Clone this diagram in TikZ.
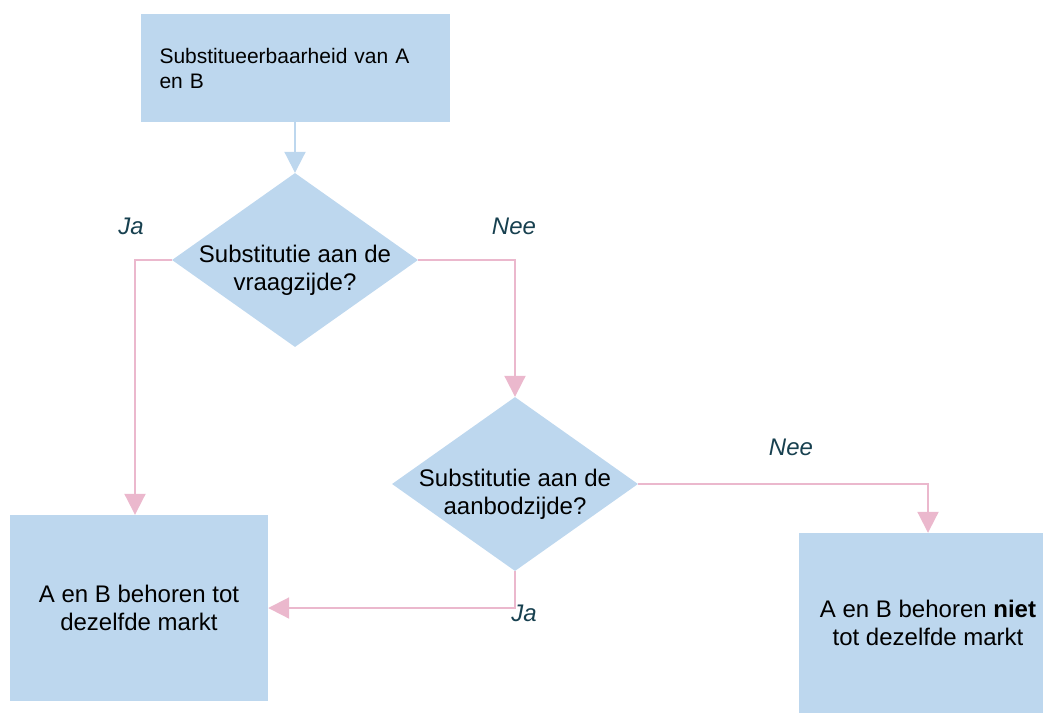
\documentclass[tikz,border=0pt]{standalone}
\usepackage{fontspec}
\setmainfont{Liberation Sans}
\usetikzlibrary{shapes.geometric,arrows.meta}
\definecolor{boxblue}{HTML}{BDD7EE}
\definecolor{flowpink}{HTML}{EBB8CD}
\definecolor{answerteal}{HTML}{17404F}
\tikzset{
	block/.style={rectangle, fill=boxblue, align=center, minimum width=258pt, font=\fontsize{24pt}{27.6pt}\selectfont},
	decision/.style={diamond, fill=boxblue, minimum width=246pt, minimum height=174pt, inner sep=0pt},
	question/.style={align=center, font=\fontsize{24pt}{27.6pt}\selectfont},
	flow/.style={draw=flowpink, line width=2pt, -{Triangle[width=21pt,length=21pt]}},
	answer/.style={font=\fontsize{24pt}{27.6pt}\selectfont\itshape, text=answerteal}
}
\begin{document}
\begin{tikzpicture}[x=1pt, y=-1pt]
		\useasboundingbox (0,0) rectangle (1043,713);
		\clip (0,0) rectangle (1043,713);
		\node(start)[block, align=left, minimum width=0pt, text width=271pt, inner xsep=19pt, minimum height=108pt, font=\fontsize{21pt}{25pt}\selectfont] at (295,68){Substitueerbaarheid van A\\en B};
		\node(q1)[decision] at (295,260){};
		\node(q1txt)[question] at (295,270){Substitutie aan de\\vraagzijde?};
		\node(q2)[decision] at (515,484){};
		\node(q2txt)[question] at (515,494){Substitutie aan de\\aanbodzijde?};
		\node(same)[block, minimum height=186pt] at (139,608){A en B behoren tot\\dezelfde markt};
		\node(notsame)[block, minimum height=180pt] at (928,623){A en B behoren \textbf{niet}\\tot dezelfde markt};
		\node(ja1)[answer] at (131,226){Ja};
		\node(nee1)[answer] at (514,226){Nee};
		\node(nee2)[answer] at (791,447){Nee};
		\node(ja2)[answer] at (524,613){Ja};
		\draw[flow, draw=boxblue](start.south) -- (q1.north);
		\draw[flow](q1.west) -| ([xshift=-4pt]same.north);
		\draw[flow](q1.east) -| (q2.north);
		\draw[flow](q2.east) -| (notsame.north);
		\draw[flow](q2.south) |- (same.east);
	\end{tikzpicture}
\end{document}
